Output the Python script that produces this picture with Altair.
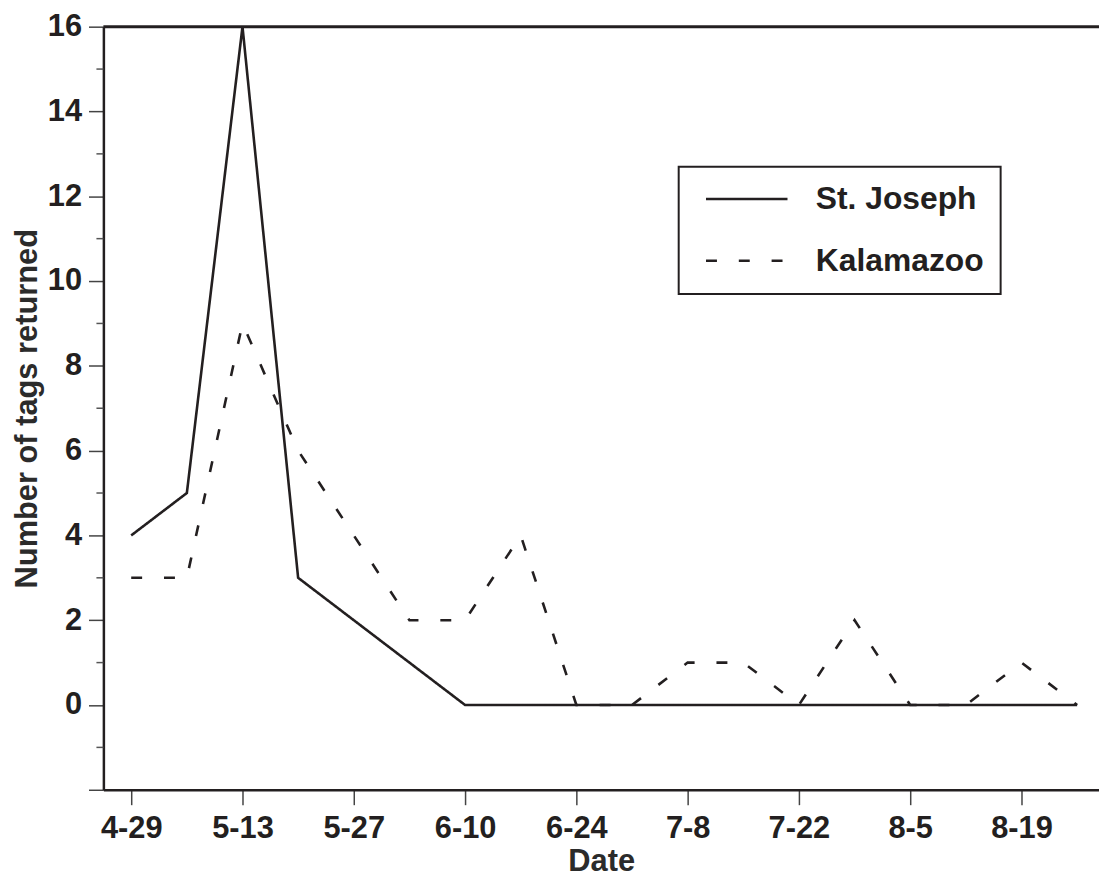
import altair as alt
import pandas as pd

# ---- data ----
dates = ["4-29", "5-6", "5-13", "5-20", "5-27", "6-3", "6-10", "6-17", "6-24",
         "7-1", "7-8", "7-15", "7-22", "7-29", "8-5", "8-12", "8-19", "8-26"]
st_joseph = [4, 5, 16, 3, 2, 1, 0, 0, 0, 0, 0, 0, 0, 0, 0, 0, 0, 0]
kalamazoo = [3, 3, 9, 6, 4, 2, 2, 4, 0, 0, 1, 1, 0, 2, 0, 0, 1, 0]
series_names = ["St. Joseph", "Kalamazoo"]
tick_dates = ["4-29", "5-13", "5-27", "6-10", "6-24", "7-8", "7-22", "8-5", "8-19"]
y_major = [-2, 0, 2, 4, 6, 8, 10, 12, 14, 16]
y_minor = [-1, 1, 3, 5, 7, 9, 11, 13, 15]
YEAR = "2001"


def ms(md, extra_days=0.0):
    m, d = md.split("-")
    t = pd.Timestamp(f"{YEAR}-{m.zfill(2)}-{d.zfill(2)}", tz="UTC")
    t = t + pd.Timedelta(days=extra_days)
    return int(t.value // 10**6)


rows = []
for name, vals in zip(series_names, [st_joseph, kalamazoo]):
    for d, v in zip(dates, vals):
        rows.append({"date": ms(d), "value": v, "series": name})
df = pd.DataFrame(rows)

INK = "#231f20"
FONT = "Liberation Sans"
NBSP = "\u00a0"

x_dom = [ms("4-29", -3.5), ms("4-29", 121.75)]
x_scale = alt.Scale(type="utc", domain=x_dom)
y_scale = alt.Scale(domain=[-2, 16], nice=False, zero=False)

x_enc = alt.X(
    "date:T",
    scale=x_scale,
    axis=alt.Axis(
        title="Date",
        values=[ms(d) for d in tick_dates],
        labelExpr="utcFormat(datum.value, '%-m-%-d')",
        tickSize=15,
        labelPadding=9,
        labelFontSize=31,
        titleFontSize=31,
        titleY=88,
        titleBaseline="bottom",
        labelFlush=False,
        labelOverlap=False,
        grid=False,
    ),
)
y_enc = alt.Y(
    "value:Q",
    scale=y_scale,
    axis=alt.Axis(
        title="Number of tags returned",
        values=y_major,
        format="d",
        labelExpr="datum.value < 0 ? '' : datum.label",
        tickSize=15,
        labelPadding=7,
        labelFontSize=31,
        titleFontSize=31,
        titleX=-67,
        titleY=384,
        titleBaseline="alphabetic",
        labelFlush=False,
        labelOverlap=False,
        grid=False,
    ),
)

lines = alt.Chart(df).mark_line(color=INK, strokeWidth=2.6).encode(
    x=x_enc,
    y=y_enc,
    strokeDash=alt.StrokeDash(
        "series:N",
        scale=alt.Scale(domain=series_names, range=[[1, 0], [11, 22]]),
        legend=alt.Legend(
            orient="none",
            legendX=579,
            legendY=141,
            title=None,
            symbolType="stroke",
            symbolSize=6724,
            symbolStrokeWidth=2.6,
            symbolStrokeColor=INK,
            symbolOffset=9,
            labelFontSize=32,
            labelFont=FONT,
            labelFontWeight="bold",
            labelColor=INK,
            labelOffset=27,
            labelLimit=500,
            padding=17,
            rowPadding=29,
            clipHeight=31,
            strokeColor=INK,
            labelExpr=f"datum.label + '{NBSP}'",
        ),
    ),
    order=alt.Order("date:T"),
)

minor_df = pd.DataFrame({"value": y_minor})
minor = alt.Chart(minor_df).mark_rule(color="#555555", strokeWidth=1.5).encode(
    y=alt.Y("value:Q", scale=y_scale),
    x=alt.value(-7),
    x2=alt.value(0),
)

top_df = pd.DataFrame({"value": [y_major[-1]]})
top = alt.Chart(top_df).mark_rule(color=INK, strokeWidth=3).encode(
    y=alt.Y("value:Q", scale=y_scale),
)

chart = (
    alt.layer(lines, minor, top)
    .properties(
        width=1002,
        height=768,
        autosize=alt.AutoSizeParams(type="none"),
        padding={"left": 96, "top": 16, "right": 0, "bottom": 88},
    )
    .configure(background="white")
    .configure_view(stroke=None)
    .configure_legend(strokeWidth=2)
    .configure_axis(
        domainColor=INK,
        domainWidth=2.5,
        tickColor="#444444",
        tickWidth=1.5,
        grid=False,
        labelFont=FONT,
        labelFontWeight="bold",
        labelColor=INK,
        titleFont=FONT,
        titleFontWeight="bold",
        titleColor="#2b2b2b",
    )
)

chart.save("out.html", embed_options={"renderer": "svg", "actions": False})
